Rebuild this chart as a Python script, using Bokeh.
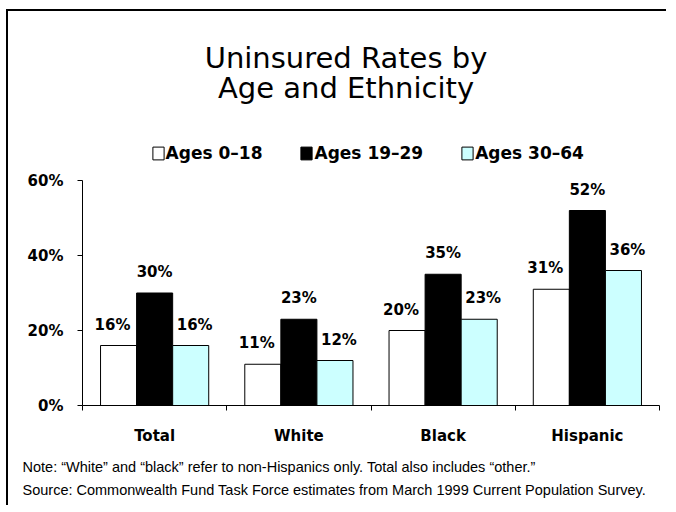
from bokeh.plotting import figure
from bokeh.models import (ColumnDataSource, FixedTicker, PrintfTickFormatter, Legend,
                          LegendItem, LabelSet, Label, Range1d, Title)
from bokeh.core.properties import value
from bokeh.embed import file_html
from bokeh.resources import INLINE

# ---- data ----
categories = ["Total", "White", "Black", "Hispanic"]
series_names = ["Ages 0\u201318", "Ages 19\u201329", "Ages 30\u201364"]
ages_0_18 = [16, 11, 20, 31]
ages_19_29 = [30, 23, 35, 52]
ages_30_64 = [16, 12, 23, 36]
y_ticks = [0, 20, 40, 60]
title_lines = ["Uninsured Rates by", "Age and Ethnicity"]
note_lines = [
    "Note: \u201cWhite\u201d and \u201cblack\u201d refer to non-Hispanics only. Total also includes \u201cother.\u201d",
    "Source: Commonwealth Fund Task Force estimates from March 1999 Current Population Survey.",
]

# ---- styles / layout ----
series_values = [ages_0_18, ages_19_29, ages_30_64]
bar_offsets = [-0.25, 0.0, 0.25]
bar_colors = ["white", "black", "#CCFFFF"]
label_dx = [-6, 0, 4]
BOLD = "DejaVu Sans"

W, H = 660, 496
FRAME_H = 394            # frame from canvas top to the 0% line
AXIS_H = 225             # pixels from 0% to 60%
y_max = y_ticks[-1] * FRAME_H / AXIS_H   # frame extends above the axis for title/legend

p = figure(width=W, height=H, output_backend="svg", toolbar_location=None,
           x_range=Range1d(0, len(categories)), y_range=Range1d(0, y_max),
           min_border_left=74, min_border_right=9, min_border_top=0,
           min_border_bottom=H - FRAME_H, background_fill_color="white",
           border_fill_color="white")
p.styles = {"margin-left": "6px", "margin-top": "9px",
            "border-left": "2px solid black", "border-top": "2px solid black"}
p.xgrid.visible = False
p.ygrid.visible = False
p.outline_line_color = None
p.title.visible = False

x_centers = [i + 0.5 for i in range(len(categories))]

# x axis
p.xaxis.ticker = FixedTicker(ticks=x_centers, minor_ticks=list(range(len(categories) + 1)))
p.xaxis.major_label_overrides = {c: name for c, name in zip(x_centers, categories)}
p.xaxis.major_tick_out = 0
p.xaxis.major_tick_in = 0
p.xaxis.minor_tick_out = 5
p.xaxis.minor_tick_in = 0
p.xaxis.minor_tick_line_color = "black"
p.xaxis.axis_line_color = "black"
p.xaxis.major_label_standoff = 16
p.xaxis.major_label_text_font = BOLD
p.xaxis.major_label_text_font_style = "bold"
p.xaxis.major_label_text_font_size = "15px"
p.xaxis.major_label_text_color = "black"

# y axis
p.yaxis.ticker = FixedTicker(ticks=y_ticks)
p.yaxis.bounds = (y_ticks[0], y_ticks[-1])
p.yaxis.formatter = PrintfTickFormatter(format="%d%%")
p.yaxis.minor_tick_line_color = None
p.yaxis.major_tick_in = 0
p.yaxis.major_tick_out = 5
p.yaxis.major_tick_line_color = "black"
p.yaxis.axis_line_color = "black"
p.yaxis.major_label_standoff = 14
p.yaxis.major_label_text_font = BOLD
p.yaxis.major_label_text_font_style = "bold"
p.yaxis.major_label_text_font_size = "15px"
p.yaxis.major_label_text_color = "black"

renderers = []
for vals, off, col, dx in zip(series_values, bar_offsets, bar_colors, label_dx):
    src = ColumnDataSource(dict(
        x=[c + off for c in x_centers],
        top=vals,
        txt=[f"{v}%" for v in vals],
    ))
    r = p.vbar(x="x", top="top", width=0.25, source=src, fill_color=col,
               line_color="black", line_width=1)
    renderers.append(r)
    p.add_layout(LabelSet(x="x", y="top", text="txt", source=src,
                          x_offset=dx, y_offset=16, text_align="center",
                          text_baseline="alphabetic", text_font=value(BOLD),
                          text_font_style="bold", text_font_size="15px",
                          text_color="black"))

legend = Legend(items=[LegendItem(label=n, renderers=[r]) for n, r in zip(series_names, renderers)],
                orientation="horizontal", location=(68.6, 242), padding=0, margin=0,
                spacing=37, label_standoff=1, glyph_width=14, glyph_height=16,
                label_height=12, border_line_color=None, background_fill_alpha=0,
                label_text_font=BOLD, label_text_font_style="bold",
                label_text_font_size="17px", label_text_color="black")
p.add_layout(legend)

# title inside the (extended) frame, screen px relative to the frame
for txt, yy in zip(title_lines, [348, 318]):
    p.add_layout(Label(x=263.5, y=yy, x_units="screen", y_units="screen", text=txt,
                       text_align="center", text_baseline="alphabetic",
                       text_font="DejaVu Sans", text_font_size="29px", text_color="black"))

# notes under the x axis
for txt, so in zip(note_lines, [18, -8]):
    p.add_layout(Title(text=txt, align="left", offset=-60, standoff=so,
                       text_font="Liberation Sans", text_font_size="14.5px",
                       text_font_style="normal", text_color="black"), "below")

open("out.html", "w").write(file_html(p, INLINE))
